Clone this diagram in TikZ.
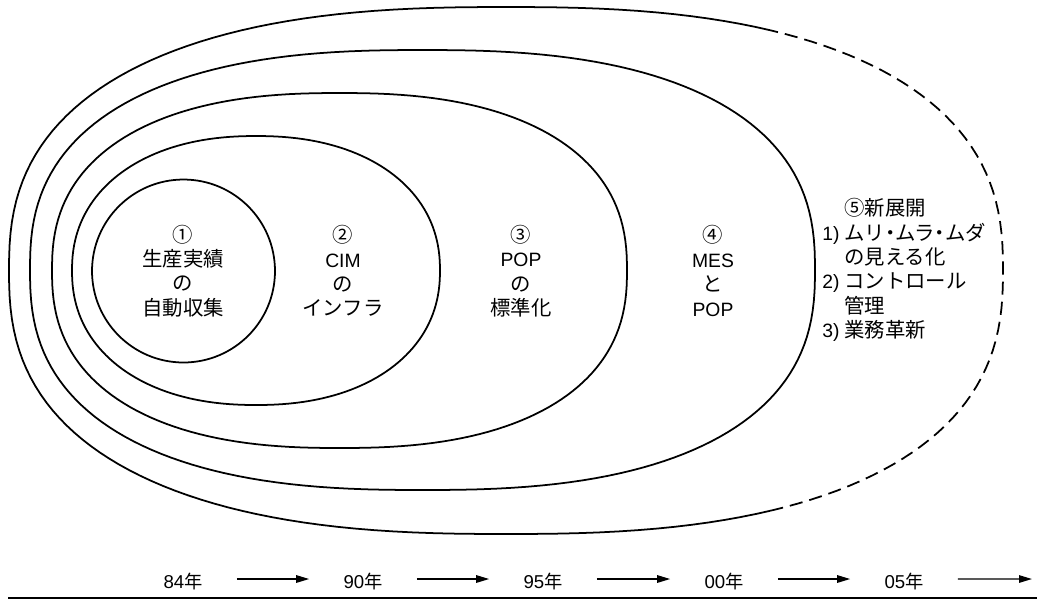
\documentclass[tikz,border=0pt]{standalone}
\usepackage{fontspec}
\setmainfont{Liberation Sans}
\newfontfamily\jpf{Noto Sans CJK JP}
\newfontfamily\latf{Liberation Sans}
\usetikzlibrary{arrows.meta}
\newcommand\lattext[1]{{\latf\fontsize{11}{13.9}\selectfont #1}}
\newcommand\yrnum[1]{{\latf\fontsize{10.6}{12}\selectfont #1}}
\newcommand\itemnum[1]{\makebox[12.5pt][l]{\lattext{#1}}}
\newcommand\ndot{\kern-.25em・\kern-.25em}
% superellipse: xc, yc, a, b, exponent (2/n-1), t0, t1, samples
\newcommand\superell[8]{plot[domain=#6:#7,samples=#8] ({#1+#3*cos(\x)*abs(cos(\x))^(#5)},{#2-#4*sin(\x)*abs(sin(\x))^(#5)})}
\tikzset{
  ring/.style={line width=1pt},
  lbl/.style={align=center, inner sep=0pt, font=\jpf\fontsize{11.6}{13.9}\selectfont},
  yr/.style={inner sep=0pt, anchor=base, font=\jpf\fontsize{10.4}{12}\selectfont},
  tl/.style={line width=0.8pt, -{Triangle[length=0.26cm,width=0.15cm]}, shorten <=0.68cm, shorten >=0.68cm},
}
\begin{document}
\begin{tikzpicture}[x=0.02cm,y=-0.02cm]
\useasboundingbox (0,0) rectangle (1037,600);
% rings
\draw[ring] (183.5,271) circle[radius=1.83cm];
\draw[ring] \superell{256}{270.5}{184}{134.5}{-0.0909}{1}{361}{181} -- cycle;
\draw[ring] \superell{339.5}{270.5}{287.5}{177.5}{-0.1667}{1}{361}{181} -- cycle;
\draw[ring] \superell{422.5}{270}{392.5}{220}{-0.2}{1}{361}{181} -- cycle;
\draw[ring] \superell{506}{270.5}{497}{263.5}{-0.2}{63}{297}{118};
\draw[ring, dash pattern=on 7.5pt off 4pt] \superell{506}{270.5}{497}{263.5}{-0.2}{-63}{63}{64};
% labels
\node[lbl] (t1) at (183,271) {①\\生産実績\\の\\自動収集};
\node[lbl] (t2) at (343,271) {②\\\lattext{CIM}\\の\\インフラ};
\node[lbl] (t3) at (521,271) {③\\\lattext{POP}\\の\\標準化};
\node[lbl] (t4) at (713,271) {④\\\lattext{MES}\\と\\\lattext{POP}};
\node[lbl, align=left, anchor=west] (t5) at (822,270) {\itemnum{}⑤新展開\\
\itemnum{1)}ムリ\ndot ムラ\ndot ムダ\\
\itemnum{}の見える化\\
\itemnum{2)}コントロール\\
\itemnum{}管理\\
\itemnum{3)}業務革新};
% timeline
\node[yr] (y84) at (183,588) {\yrnum{84}年};
\node[yr] (y90) at (363,588) {\yrnum{90}年};
\node[yr] (y95) at (543,588) {\yrnum{95}年};
\node[yr] (y00) at (724,588) {\yrnum{00}年};
\node[yr] (y05) at (904,588) {\yrnum{05}年};
\coordinate (tend) at (1032,579);
\draw[tl] ([yshift=0.18cm]y84.base east) -- ([yshift=0.18cm]y90.base west);
\draw[tl] ([yshift=0.18cm]y90.base east) -- ([yshift=0.18cm]y95.base west);
\draw[tl] ([yshift=0.18cm]y95.base east) -- ([yshift=0.18cm]y00.base west);
\draw[tl] ([yshift=0.18cm]y00.base east) -- ([yshift=0.18cm]y05.base west);
\draw[tl, shorten >=0pt] ([yshift=0.18cm]y05.base east) -- (tend);
\draw[line width=1pt] (8,598) -- (1037,598);
\end{tikzpicture}
\end{document}
